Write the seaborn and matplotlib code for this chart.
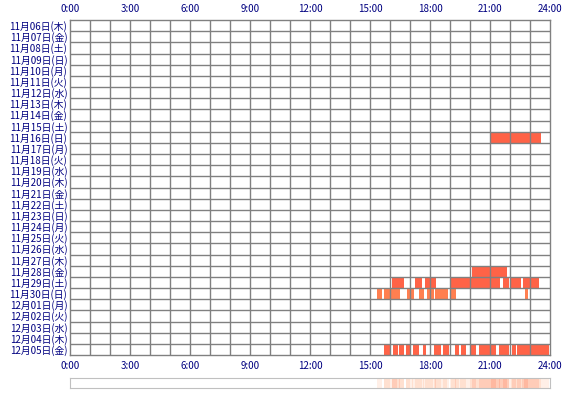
import matplotlib
matplotlib.use("Agg")
import matplotlib.pyplot as plt
import numpy as np
import pandas as pd
import seaborn as sns

sns.set_style("white")
plt.rcParams['font.family'] = ['Noto Sans CJK JP', 'DejaVu Sans']

days = pd.date_range("2014-11-06", "2014-12-05")
weekdays = "月火水木金土日"
day_labels = [f"{d.month}月{d.day:02d}日({weekdays[d.weekday()]})" for d in days]

# activity segments (start hour, end hour) per day
segments = {
    "2014-11-16": [(21.05, 23.55)],
    "2014-11-28": [(20.1, 21.85)],
    "2014-11-29": [(16.12, 16.72), (17.27, 17.6), (17.77, 18.3), (19.02, 21.5),
                   (21.67, 21.97), (22.07, 22.55), (22.63, 23.47)],
    "2014-11-30": [(15.37, 15.6), (15.72, 16.52), (16.83, 17.18), (17.47, 17.72),
                   (17.83, 18.18), (18.27, 18.88), (19.05, 19.3), (22.73, 22.9)],
    "2014-12-05": [(15.72, 16.0), (16.13, 16.38), (16.47, 16.72), (16.8, 17.0),
                   (17.13, 17.47), (17.67, 17.8), (18.22, 18.55), (18.67, 18.97),
                   (19.27, 19.47), (19.53, 19.8), (20.0, 20.3), (20.47, 21.3),
                   (21.47, 21.97), (22.1, 22.3), (22.37, 23.97)],
}
colors = {"2014-11-30": "#ff7f50"}

hour_ticks = list(range(0, 25, 3))
hour_labels = [f"{h}:00" for h in hour_ticks]
lab_color = "#000080"

fig = plt.figure(figsize=(5.7, 4.0), dpi=100)
ax = fig.add_axes([70 / 570, 1 - 355 / 400, 480 / 570, 335 / 400])
n = len(days)
for i, d in enumerate(days):
    key = d.strftime("%Y-%m-%d")
    for s, e in segments.get(key, []):
        ax.barh(i, e - s, left=s, height=1.0, color=colors.get(key, "#ff6347"), lw=0)

ax.set_xlim(0, 24)
ax.set_ylim(n - 0.5, -0.5)
for h in range(1, 24):
    ax.axvline(h, color="#808080", lw=1.0, zorder=3)
for i in range(1, n):
    ax.axhline(i - 0.5, color="#808080", lw=1.0, zorder=3)
for sp in ax.spines.values():
    sp.set_color("#808080")
    sp.set_linewidth(1.0)
ax.set_xticks(hour_ticks)
ax.set_xticklabels(hour_labels, color=lab_color, fontsize=7)
ax.tick_params(axis="x", top=True, labeltop=True, length=0, pad=4)
ax.set_yticks(range(n))
ax.set_yticklabels(day_labels, color=lab_color, fontsize=7)
ax.tick_params(axis="y", length=0, pad=2)

# density strip below
minutes = np.zeros(24 * 60)
for segs in segments.values():
    for s, e in segs:
        minutes[int(s * 60):int(e * 60)] += 1
sax = fig.add_axes([70 / 570, 1 - 388 / 400, 480 / 570, 10 / 400])
sns.heatmap(minutes[None, :] + 0.0, ax=sax,
            cmap=sns.blend_palette(["#ffffff", "#ffe0d0", "#ffb8a0"], as_cmap=True),
            vmin=0, vmax=4, cbar=False, xticklabels=False, yticklabels=False)
for sp in sax.spines.values():
    sp.set_visible(True)
    sp.set_color("#c0c0c0")

fig.savefig("out.png", dpi=100)
